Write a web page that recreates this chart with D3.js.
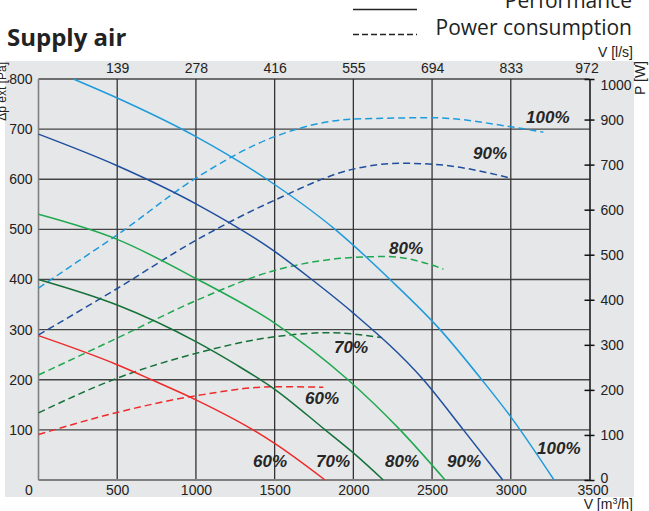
<!DOCTYPE html>
<html>
<head>
<meta charset="utf-8">
<script src="https://cdn.jsdelivr.net/npm/d3@7"></script>
<style>
body { margin: 0; background: #fff; }
svg { display: block; }
.tick text { font-family: "Liberation Sans", Arial, sans-serif; font-size: 14px; fill: #222; }
</style>
</head>
<body>
<div id="chart"></div>
<script>
// axis ticks
const flowTicks = [0, 500, 1000, 1500, 2000, 2500, 3000, 3500];
const lsLabels = ["139", "278", "416", "555", "694", "833", "972"];
const paTicks = [100, 200, 300, 400, 500, 600, 700, 800];
const wTicks = [0, 100, 200, 300, 400, 500, 600, 700, 800, 890];
const wLabels = ["0", "100", "200", "300", "400", "500", "600", "700", "900", "1000"];

// performance curves, V [m3/h] -> dP [Pa]
const perf100V = [221, 500, 1000, 1450, 1884, 2233, 2551, 2816, 3000, 3275];
const perf100P = [800, 762, 685, 600, 500, 400, 300, 200, 126, 0];
const perf90V = [0, 500, 1000, 1500, 1736, 2000, 2445, 2699, 2949];
const perf90P = [690, 627, 551, 456, 400, 333, 200, 100, 0];
const perf80V = [0, 500, 1000, 1500, 1966, 2297, 2583];
const perf80P = [530, 480, 402, 313, 200, 100, 0];
const perf70V = [0, 500, 1000, 1250, 1500, 1821, 2000, 2190];
const perf70P = [400, 349, 276, 231, 181, 100, 54, 0];
const perf60V = [0, 500, 719, 1000, 1363, 1500, 1820];
const perf60P = [288, 230, 200, 160, 100, 73, 0];

// power consumption curves, V [m3/h] -> P [W]
const pow100V = [0, 250, 500, 1000, 1500, 2000, 2500, 3000, 3207];
const pow100W = [426, 485, 544, 670, 762, 801, 804, 784, 772];
const pow90V = [0, 500, 1000, 1500, 2000, 2300, 2500, 3000];
const pow90W = [322, 425, 532, 621, 690, 703, 701, 670];
const pow80V = [0, 500, 1000, 1500, 2000, 2200, 2500, 2572];
const pow80W = [233, 315, 398, 465, 494, 496, 477, 468];
const pow70V = [0, 500, 1000, 1500, 1850, 2180];
const pow70W = [149, 226, 281, 318, 327, 316];
const pow60V = [0, 500, 1000, 1500, 1809];
const pow60W = [101, 150, 187, 207, 206];

// curve labels (V, dP)
const labelText = ["100%", "90%", "80%", "70%", "60%", "60%", "70%", "80%", "90%", "100%"];
const labelV = [3097, 2760, 2227, 1877, 1693, 1363, 1763, 2201, 2595, 3167];
const labelP = [713, 641, 451, 253, 152, 26, 26, 26, 26, 52];

const colors = { c100: "#1e9bdc", c90: "#1f4f9e", c80: "#1fa84f", c70: "#16703a", c60: "#ee2a2a" };

const svg = d3.select("#chart").append("svg").attr("width", 649).attr("height", 511);

svg.append("rect").attr("x", 5).attr("y", 61).attr("width", 629).attr("height", 436).attr("fill", "#e6e7e8");

const x = d3.scaleLinear().domain([0, 3500]).range([38.5, 589.5]);
const y = d3.scaleLinear().domain([0, 800]).range([480, 79]);
const yW = d3.scaleLinear().domain([0, 890]).range([480, 79]);

// grid
svg.append("g").selectAll("line").data(paTicks).enter().append("line")
  .attr("x1", x(0)).attr("x2", x(3500))
  .attr("y1", d => y(d)).attr("y2", d => y(d))
  .attr("stroke", "#444").attr("stroke-width", 1.3);
svg.append("g").selectAll("line").data(flowTicks.slice(1, -1)).enter().append("line")
  .attr("x1", d => x(d)).attr("x2", d => x(d))
  .attr("y1", y(0)).attr("y2", y(800))
  .attr("stroke", "#333").attr("stroke-width", 1.3);
svg.append("line").attr("x1", x(0)).attr("x2", x(0)).attr("y1", y(0)).attr("y2", y(800))
  .attr("stroke", "#808080").attr("stroke-width", 1.6);
svg.append("line").attr("x1", x(0)).attr("x2", x(3500)).attr("y1", y(0)).attr("y2", y(0))
  .attr("stroke", "#808080").attr("stroke-width", 2);

// curves
const zip = (a, b) => a.map((v, i) => [v, b[i]]);
const perfLine = d3.line().x(d => x(d[0])).y(d => y(d[1])).curve(d3.curveMonotoneX);
const powLine = d3.line().x(d => x(d[0])).y(d => yW(d[1])).curve(d3.curveMonotoneX);

const perf = [
  [perf100V, perf100P, colors.c100], [perf90V, perf90P, colors.c90], [perf80V, perf80P, colors.c80],
  [perf70V, perf70P, colors.c70], [perf60V, perf60P, colors.c60]
];
const pow = [
  [pow100V, pow100W, colors.c100], [pow90V, pow90W, colors.c90], [pow80V, pow80W, colors.c80],
  [pow70V, pow70W, colors.c70], [pow60V, pow60W, colors.c60]
];

svg.append("g").selectAll("path").data(pow).enter().append("path")
  .attr("d", d => powLine(zip(d[0], d[1])))
  .attr("fill", "none").attr("stroke", d => d[2]).attr("stroke-width", 1.5)
  .attr("stroke-dasharray", "7,4");
svg.append("g").selectAll("path").data(perf).enter().append("path")
  .attr("d", d => perfLine(zip(d[0], d[1])))
  .attr("fill", "none").attr("stroke", d => d[2]).attr("stroke-width", 1.5);

// axes
const leftAx = svg.append("g").attr("transform", "translate(" + x(0) + ",0)")
  .call(d3.axisLeft(y).tickValues(paTicks).tickFormat(d3.format("d")).tickSize(0).tickPadding(6));
leftAx.select(".domain").remove();

const bottomAx = svg.append("g").attr("transform", "translate(0," + y(0) + ")")
  .call(d3.axisBottom(x).tickValues(flowTicks).tickFormat(d3.format("d")).tickSize(0).tickPadding(5));
bottomAx.select(".domain").remove();
bottomAx.selectAll(".tick text").filter(d => d === 0).attr("x", -10);
bottomAx.selectAll(".tick text").filter(d => d === 3500).attr("x", 3);

const topAx = svg.append("g").attr("transform", "translate(0," + y(800) + ")")
  .call(d3.axisTop(x).tickValues(flowTicks.slice(1)).tickFormat((d, i) => lsLabels[i]).tickSize(0).tickPadding(6));
topAx.select(".domain").remove();
topAx.selectAll(".tick text").filter(d => d === 3500).attr("x", -3);

const rightAx = svg.append("g").attr("transform", "translate(" + x(3500) + ",0)")
  .call(d3.axisRight(yW).tickValues(wTicks).tickFormat((d, i) => wLabels[i]).tickSizeInner(5).tickSizeOuter(0).tickPadding(6));
rightAx.select(".domain").attr("stroke", "#111").attr("stroke-width", 1.5);
rightAx.selectAll(".tick line").attr("x1", -5).attr("stroke", "#111").attr("stroke-width", 1.5);
rightAx.selectAll(".tick text").filter(d => d === 890).attr("dy", "0.75em");
rightAx.selectAll(".tick text").filter(d => d === 0).attr("dy", "0.15em");

// unit labels
const unit = { "font-family": "Liberation Sans, Arial, sans-serif", "font-size": "14px", "fill": "#222" };
function txt(s, tx, ty, anchor) {
  const t = svg.append("text").attr("x", tx).attr("y", ty).attr("text-anchor", anchor || "start").text(s);
  Object.entries(unit).forEach(([k, v]) => t.attr(k, v));
  return t;
}
txt("V [l/s]", 633, 57, "end");
const vm = txt("", 633, 509, "end");
vm.append("tspan").text("V [m");
vm.append("tspan").attr("font-size", "9px").attr("dy", -5).text("3");
vm.append("tspan").attr("dy", 5).text("/h]");
txt("P [W]", 0, 0, "end").attr("transform", "translate(645,61) rotate(-90)");
txt("\u0394p ext [Pa]", 0, 0, "end").attr("font-size", "12px").attr("transform", "translate(6,62) rotate(-90)");

// title and legend
svg.append("text").attr("x", 7).attr("y", 46)
  .attr("font-family", "Open Sans, sans-serif").attr("font-weight", "bold").attr("font-size", "24px")
  .attr("fill", "#222").text("Supply air");
svg.append("line").attr("x1", 353).attr("x2", 417).attr("y1", 9.5).attr("y2", 9.5)
  .attr("stroke", "#222").attr("stroke-width", 1.3);
svg.append("line").attr("x1", 353).attr("x2", 417).attr("y1", 34.5).attr("y2", 34.5)
  .attr("stroke", "#222").attr("stroke-width", 1.3).attr("stroke-dasharray", "6,3");
svg.append("text").attr("x", 632).attr("y", 8).attr("text-anchor", "end")
  .attr("font-family", "Open Sans, sans-serif").attr("font-size", "21px").attr("fill", "#222").text("Performance");
svg.append("text").attr("x", 632).attr("y", 35).attr("text-anchor", "end")
  .attr("font-family", "Open Sans, sans-serif").attr("font-size", "21px").attr("fill", "#222").text("Power consumption");

// curve labels
svg.append("g").selectAll("text").data(labelText).enter().append("text")
  .attr("x", (d, i) => x(labelV[i])).attr("y", (d, i) => y(labelP[i]))
  .attr("font-family", "Liberation Sans, Arial, sans-serif").attr("font-weight", "bold")
  .attr("font-style", "italic").attr("font-size", "17px").attr("fill", "#262626")
  .text(d => d);
</script>
</body>
</html>
